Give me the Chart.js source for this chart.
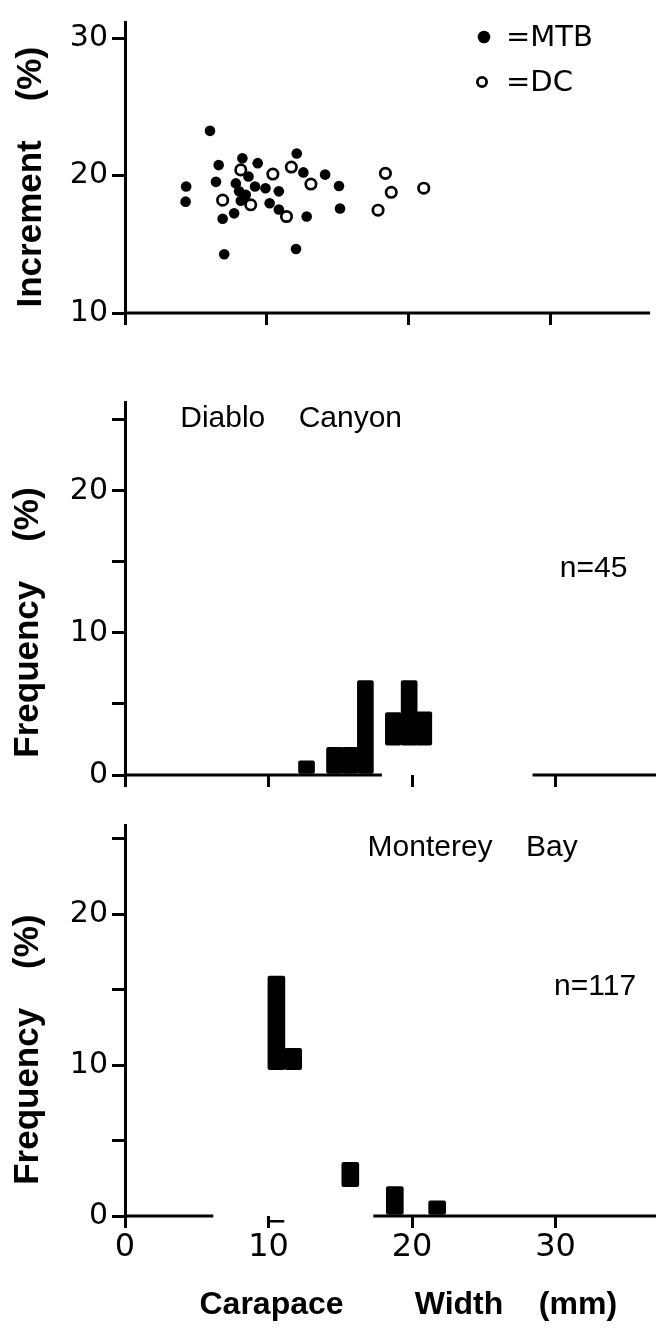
<!DOCTYPE html>
<html><head><meta charset="utf-8">
<script src="https://cdn.jsdelivr.net/npm/chart.js@4.4.1/dist/chart.umd.min.js"></script>
<style>
html,body{margin:0;padding:0;background:#fff;}
body{width:658px;height:1339px;position:relative;overflow:hidden;}
canvas{position:absolute;left:0;}
</style></head><body>
<canvas id="c1" width="658" height="335" style="top:0px"></canvas>
<canvas id="c2" width="658" height="420" style="top:380px"></canvas>
<canvas id="c3" width="658" height="539" style="top:800px"></canvas>
<script>
// ---------- data ----------
const xTicks = [0, 10, 20, 30];
const xTickLabels = ['0', '10', '20', '30'];
const incrementTicks = [10, 20, 30];
const incrementTickLabels = ['10', '20', '30'];
const freqTicks = [0, 5, 10, 15, 20, 25];
const freqTickLabels = ['0', '', '10', '', '20', ''];

// Increment (%) vs carapace width (mm)
const mtbWidth =     [4.31, 4.27, 5.99, 6.6, 6.41, 8.27, 9.35, 8.7, 7.81, 8.04, 8.16, 8.51, 9.16, 9.9, 10.84, 10.19, 10.84, 7.69, 6.88, 6.99, 12.1, 12.57, 12.8, 12.05, 14.1, 15.08, 15.15, 8.4];
const mtbIncrement = [19.2, 18.1, 23.25, 20.76, 19.54, 21.26, 20.9, 19.93, 19.43, 18.85, 18.17, 18.6, 19.2, 19.08, 18.85, 17.98, 17.53, 17.25, 16.86, 14.27, 21.6, 20.23, 17.02, 14.66, 20.07, 19.24, 17.6, 18.3];
const dcWidth =      [8.16, 6.88, 8.86, 10.42, 11.72, 13.1, 11.38, 18.35, 18.76, 17.83, 21.05];
const dcIncrement =  [20.41, 18.21, 17.87, 20.11, 20.62, 19.38, 17.02, 20.16, 18.78, 17.48, 19.08];
const legendLabels = ['=MTB', '=DC'];

// Diablo Canyon frequency histogram (bins as drawn: centre, bottom, top)
const dcBinCentre = [12.65, 14.6, 15.66, 16.75, 18.7, 19.8, 20.82];
const dcBinLow =    [0, 0, 0, 0, 2.1, 2.1, 2.1];
const dcBinHigh =   [1.0, 1.95, 1.95, 6.65, 4.4, 6.65, 4.45];
const dcBaseline = [[0, 17.9], [28.4, 37]];

// Monterey Bay frequency histogram
const mbBinCentre = [10.55, 11.72, 15.7, 18.8, 21.75];
const mbBinLow =    [9.7, 9.7, 1.95, 0, 0];
const mbBinHigh =   [15.9, 11.1, 3.55, 1.95, 1.0];
const mbBaseline = [[0, 6.15], [17.3, 37]];
const mbBaseFragment = [[10.05, 11.1]];

const topBaseline = [[0, 37]];
const panelNames = ['Diablo    Canyon', 'Monterey    Bay'];
const sampleSizes = ['n=45', 'n=117'];

// ---------- helpers ----------
const BLACK = '#000';
function pts(xs, ys) { return xs.map((x, i) => ({x: x, y: ys[i]})); }
function bars(c, lo, hi) { return c.map((x, i) => ({x: x, y: [lo[i], hi[i]]})); }
function baselineSets(segs, level, width) {
  return segs.map(s => ({
    type: 'line', data: [{x: s[0], y: level}, {x: s[1], y: level}],
    borderColor: BLACK, borderWidth: width || 3, pointRadius: 0, clip: false, fill: false, tension: 0
  }));
}
function xAxis(height, showLabels, title) {
  return {
    type: 'linear', min: 0, max: 37, offset: false,
    afterBuildTicks: s => { s.ticks = xTicks.map(v => ({value: v})); },
    afterFit: s => { s.height = height; },
    border: {display: false},
    grid: {offset: false, drawOnChartArea: false, drawTicks: true, tickLength: 12, color: BLACK, lineWidth: 3},
    ticks: {display: showLabels, padding: 0, color: BLACK, maxRotation: 0, autoSkip: false,
            font: {family: 'DejaVu Sans', size: 32}, callback: (v, i) => xTickLabels[i]},
    title: title ? {display: true, text: title, color: BLACK, padding: {top: 0, bottom: 15},
            font: {family: 'Liberation Sans', size: 32, weight: 'bold'}} : {display: false}
  };
}
function yAxis(min, max, tickVals, tickLabels, title, titlePad) {
  return {
    type: 'linear', min: min, max: max,
    afterBuildTicks: s => { s.ticks = tickVals.map(v => ({value: v})); },
    afterFit: s => { s.width = 125; },
    border: {display: true, color: BLACK, width: 3},
    grid: {drawOnChartArea: false, drawTicks: true, tickLength: 13, color: BLACK, lineWidth: 3},
    ticks: {padding: 4, color: BLACK, autoSkip: false, font: {family: 'DejaVu Sans', size: 30},
            callback: (v, i) => tickLabels[i]},
    title: {display: true, text: title, color: BLACK, padding: {top: titlePad, bottom: 0},
            font: {family: 'Liberation Sans', size: 35, weight: 'bold'}}
  };
}
const notePlugin = {
  id: 'notes',
  afterDraw(chart, args, opts) {
    const ctx = chart.ctx, xs = chart.scales.x, ys = chart.scales.y;
    (opts.items || []).forEach(it => {
      ctx.save();
      ctx.font = it.font; ctx.fillStyle = BLACK; ctx.textAlign = 'left'; ctx.textBaseline = 'middle';
      ctx.fillText(it.text, xs.getPixelForValue(it.x), ys.getPixelForValue(it.y));
      ctx.restore();
    });
  }
};
const keyPlugin = {
  id: 'key',
  afterDraw(chart, args, opts) {
    if (!opts.rows) return;
    const ctx = chart.ctx;
    opts.rows.forEach((r, i) => {
      ctx.save();
      ctx.beginPath();
      ctx.arc(r.mx, r.my, r.filled ? 6.3 : 4.6, 0, Math.PI * 2);
      if (r.filled) { ctx.fillStyle = BLACK; ctx.fill(); }
      else { ctx.fillStyle = '#fff'; ctx.fill(); ctx.lineWidth = 2.8; ctx.strokeStyle = BLACK; ctx.stroke(); }
      ctx.font = '29px "DejaVu Sans"'; ctx.fillStyle = BLACK; ctx.textAlign = 'left'; ctx.textBaseline = 'middle';
      ctx.fillText(legendLabels[i], r.tx, r.my + 1);
      ctx.restore();
    });
  }
};
const common = {
  responsive: false, animation: false, devicePixelRatio: 1, events: [],
  plugins: {legend: {display: false}, tooltip: {enabled: false}}
};

// ---------- panel 1: scatter ----------
new Chart(document.getElementById('c1'), {
  type: 'scatter',
  data: {datasets: [
    {label: 'DC', data: pts(dcWidth, dcIncrement), pointRadius: 5.2, pointBorderWidth: 2.7,
     pointBackgroundColor: '#fff', pointBorderColor: BLACK, showLine: false},
    {label: 'MTB', data: pts(mtbWidth, mtbIncrement), pointRadius: 5.3, pointBorderWidth: 0,
     pointBackgroundColor: BLACK, pointBorderColor: BLACK, showLine: false},
    ...baselineSets(topBaseline, 10)
  ]},
  options: Object.assign({}, common, {
    layout: {padding: {top: 7, right: 2, left: 0, bottom: 0}},
    scales: {
      x: xAxis(21, false, null),
      y: yAxis(10, 31.17, incrementTicks, incrementTickLabels, 'Increment    (%)  ', 10)
    },
    plugins: Object.assign({}, common.plugins, {
      key: {rows: [{mx: 484, my: 37, tx: 506, filled: true}, {mx: 482, my: 82, tx: 506, filled: false}]}
    })
  }),
  plugins: [keyPlugin]
});

// ---------- panel 2: Diablo Canyon ----------
new Chart(document.getElementById('c2'), {
  type: 'bar',
  data: {datasets: [
    {label: 'Diablo Canyon', data: bars(dcBinCentre, dcBinLow, dcBinHigh), backgroundColor: BLACK,
     borderWidth: 0, barThickness: 16, borderRadius: 2, borderSkipped: false},
    ...baselineSets(dcBaseline, 0)
  ]},
  options: Object.assign({}, common, {
    layout: {padding: {top: 17, right: 2, left: 0, bottom: 0}},
    scales: {
      x: xAxis(25, false, null),
      y: yAxis(0, 26.25, freqTicks, freqTickLabels, 'Frequency    (%)       ', 7)
    },
    plugins: Object.assign({}, common.plugins, {
      notes: {items: [
        {text: panelNames[0], x: 3.85, y: 25.1, font: '30px "Liberation Sans"'},
        {text: sampleSizes[0], x: 30.3, y: 14.5, font: '30px "Liberation Sans"'}
      ]}
    })
  }),
  plugins: [notePlugin]
});

// ---------- panel 3: Monterey Bay ----------
new Chart(document.getElementById('c3'), {
  type: 'bar',
  data: {datasets: [
    {label: 'Monterey Bay', data: bars(mbBinCentre, mbBinLow, mbBinHigh), backgroundColor: BLACK,
     borderWidth: 0, barThickness: 17, borderRadius: 2, borderSkipped: false},
    ...baselineSets(mbBaseline, 0),
    ...baselineSets(mbBaseFragment, -0.35, 2.5)
  ]},
  options: Object.assign({}, common, {
    layout: {padding: {top: 25, right: 2, left: 0, bottom: 0}},
    scales: {
      x: xAxis(123, true, '    Carapace        Width    (mm)'),
      y: yAxis(0, 25.9, freqTicks, freqTickLabels, 'Frequency    (%)      ', 7)
    },
    plugins: Object.assign({}, common.plugins, {
      notes: {items: [
        {text: panelNames[1], x: 16.9, y: 24.4, font: '30px "Liberation Sans"'},
        {text: sampleSizes[1], x: 29.9, y: 15.2, font: '30px "Liberation Sans"'}
      ]}
    })
  }),
  plugins: [notePlugin]
});
</script>
</body></html>
